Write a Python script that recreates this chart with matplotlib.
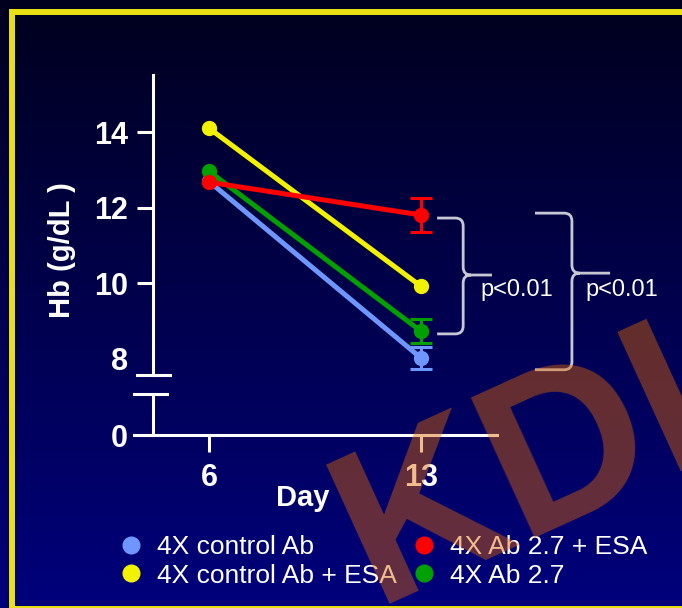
import numpy as np
import matplotlib.pyplot as plt
from matplotlib.lines import Line2D
from matplotlib.path import Path
from matplotlib.patches import PathPatch, Rectangle

plt.rcParams['font.family'] = ['Liberation Sans', 'DejaVu Sans']

# Hb media (g/dL) por grupo en los días 6 y 13
dias = [6, 13]
grupos = ['4X control Ab', '4X control Ab + ESA', '4X Ab 2.7 + ESA', '4X Ab 2.7']
colores = ['#6f96ff', '#f2f200', '#ff0000', '#00a000']
hb_control = [12.70, 8.02]
hb_control_esa = [14.11, 9.92]
hb_ab27_esa = [12.68, 11.81]
hb_ab27 = [12.97, 8.73]
# Error estándar en el día 13
err_dia13 = [0.29, 0.0, 0.45, 0.32]
p_texto = ['p<0.01', 'p<0.01']

series = [hb_control, hb_control_esa, hb_ab27_esa, hb_ab27]
orden = [0, 1, 3, 2]  # la roja se dibuja encima

BLANCO = 'white'
GRIS = '#c8c8d4'


# Llave con esquinas redondeadas que apunta a la derecha
def llave(ax, x_izq, x_vert, x_punta, y_sup, y_med, y_inf, rx=0.26, ry=0.21):
    M, L, C = Path.MOVETO, Path.LINETO, Path.CURVE3
    verts = [(x_izq, y_sup), (x_vert - rx, y_sup), (x_vert, y_sup), (x_vert, y_sup - ry),
             (x_vert, y_med + ry), (x_vert, y_med), (x_vert + rx, y_med), (x_punta, y_med),
             (x_vert + rx, y_med), (x_vert, y_med), (x_vert, y_med - ry),
             (x_vert, y_inf + ry), (x_vert, y_inf), (x_vert - rx, y_inf), (x_izq, y_inf)]
    codes = [M, L, C, C, L, C, C, L, M, C, C, L, C, C, L]
    ax.add_patch(PathPatch(Path(verts, codes), fill=False, edgecolor=GRIS,
                           lw=2, clip_on=False, zorder=4))


fig = plt.figure(figsize=(6.82, 6.08), dpi=100)

# Fondo degradado azul
fondo = fig.add_axes([0, 0, 1, 1], zorder=-1)
grad = np.linspace(0, 1, 256)[:, None]
c_sup = np.array([0, 0, 30]) / 255
c_inf = np.array([0, 0, 124]) / 255
img = c_sup + (c_inf - c_sup) * grad[:, :, None]
fondo.imshow(img * np.ones((1, 4, 1)), aspect='auto', extent=[0, 1, 0, 1])
fondo.axis('off')

# Marco amarillo
fig.add_artist(Rectangle((12 / 682, -1 / 608), 1.0, (596 + 1) / 608, transform=fig.transFigure,
                         fill=False, edgecolor='#e8e012', lw=4.3, zorder=1))

xlim = (3.524, 15.508)
eje_x = 0.0523  # posición del eje y dentro del área

# Panel superior (8-15)
ax = fig.add_axes([0.1965, 0.3832, 0.5323, 0.4934], facecolor='none')
ax.set_xlim(*xlim)
ax.set_ylim(7.57, 15.52)
# Panel inferior (0)
ax0 = fig.add_axes([0.1965, 0.2845, 0.5323, 0.0674], facecolor='none')
ax0.set_xlim(*xlim)
ax0.set_ylim(0, 1.1)

for a in (ax, ax0):
    for s in ('top', 'right'):
        a.spines[s].set_visible(False)
    a.spines['left'].set_position(('axes', eje_x))
    a.spines['left'].set_color(BLANCO)
    a.spines['left'].set_linewidth(2.2)
    a.tick_params(colors=BLANCO, width=2.2, length=11.5, pad=6.5, labelsize=22)

ax.spines['bottom'].set_visible(False)
ax.set_xticks([])
ax.set_yticks([8, 10, 12, 14])
ax.yaxis.get_major_ticks()[0].tick1line.set_visible(False)

ax0.spines['bottom'].set_color(BLANCO)
ax0.spines['bottom'].set_linewidth(2.2)
ax0.set_yticks([0])
ax0.set_xticks(dias)
ax0.tick_params(axis='x', length=12.2, pad=8)

for a in (ax, ax0):
    for lab in a.get_xticklabels() + a.get_yticklabels():
        lab.set_fontweight('bold')

# Marcas de corte del eje
ax.plot([0.008, 0.099], [0.0, 0.0], transform=ax.transAxes, color=BLANCO, lw=2.2, clip_on=False)
ax0.plot([0.0, 0.091], [1.0, 1.0], transform=ax0.transAxes, color=BLANCO, lw=2.2, clip_on=False)

# Líneas de cada grupo
for i in orden:
    ax.plot(dias, series[i], color=colores[i], lw=3.6, marker='o', ms=10,
            solid_capstyle='round', zorder=3)
    if err_dia13[i] > 0:
        ax.errorbar(dias[1], series[i][1], yerr=err_dia13[i], color=colores[i],
                    elinewidth=2.2, capsize=8, capthick=2.2, zorder=3)

# Llaves de significación
llave(ax, 13.53, 14.39, 15.34, 11.73, 10.22, 8.66)
llave(ax, 16.76, 17.98, 19.24, 11.86, 10.27, 7.71)
ax.text(14.95, 9.82, p_texto[0], color=BLANCO, fontsize=17, va='center', ha='left', clip_on=False)
ax.text(18.41, 9.82, p_texto[1], color=BLANCO, fontsize=17, va='center', ha='left', clip_on=False)

# Títulos de los ejes
fig.text(62 / 682, 1 - 250 / 608, 'Hb (g/dL )', rotation=90, color=BLANCO, fontsize=21,
         fontweight='bold', ha='center', va='center')
fig.text(303 / 682, 1 - 498 / 608, 'Day', color=BLANCO, fontsize=21,
         fontweight='bold', ha='center', va='center')

# Leyenda
manejadores = [Line2D([], [], ls='none', marker='o', color=c, ms=12) for c in colores]
fig.legend(manejadores, grupos, ncol=2, loc='upper left', bbox_to_anchor=(0.1765, 0.12),
           frameon=False, fontsize=19, labelcolor=BLANCO, handlelength=0.8,
           handletextpad=0.58, columnspacing=0.65, labelspacing=0.17, borderpad=0,
           borderaxespad=0)

# Marca de agua
fig.text(374 / 682, 1 - 604 / 608, 'KDIGO', rotation=24.5, rotation_mode='anchor',
         ha='left', va='baseline', fontsize=160, fontweight='bold',
         color='#de6700', alpha=0.45, zorder=10)

fig.savefig('out.png', dpi=100)
